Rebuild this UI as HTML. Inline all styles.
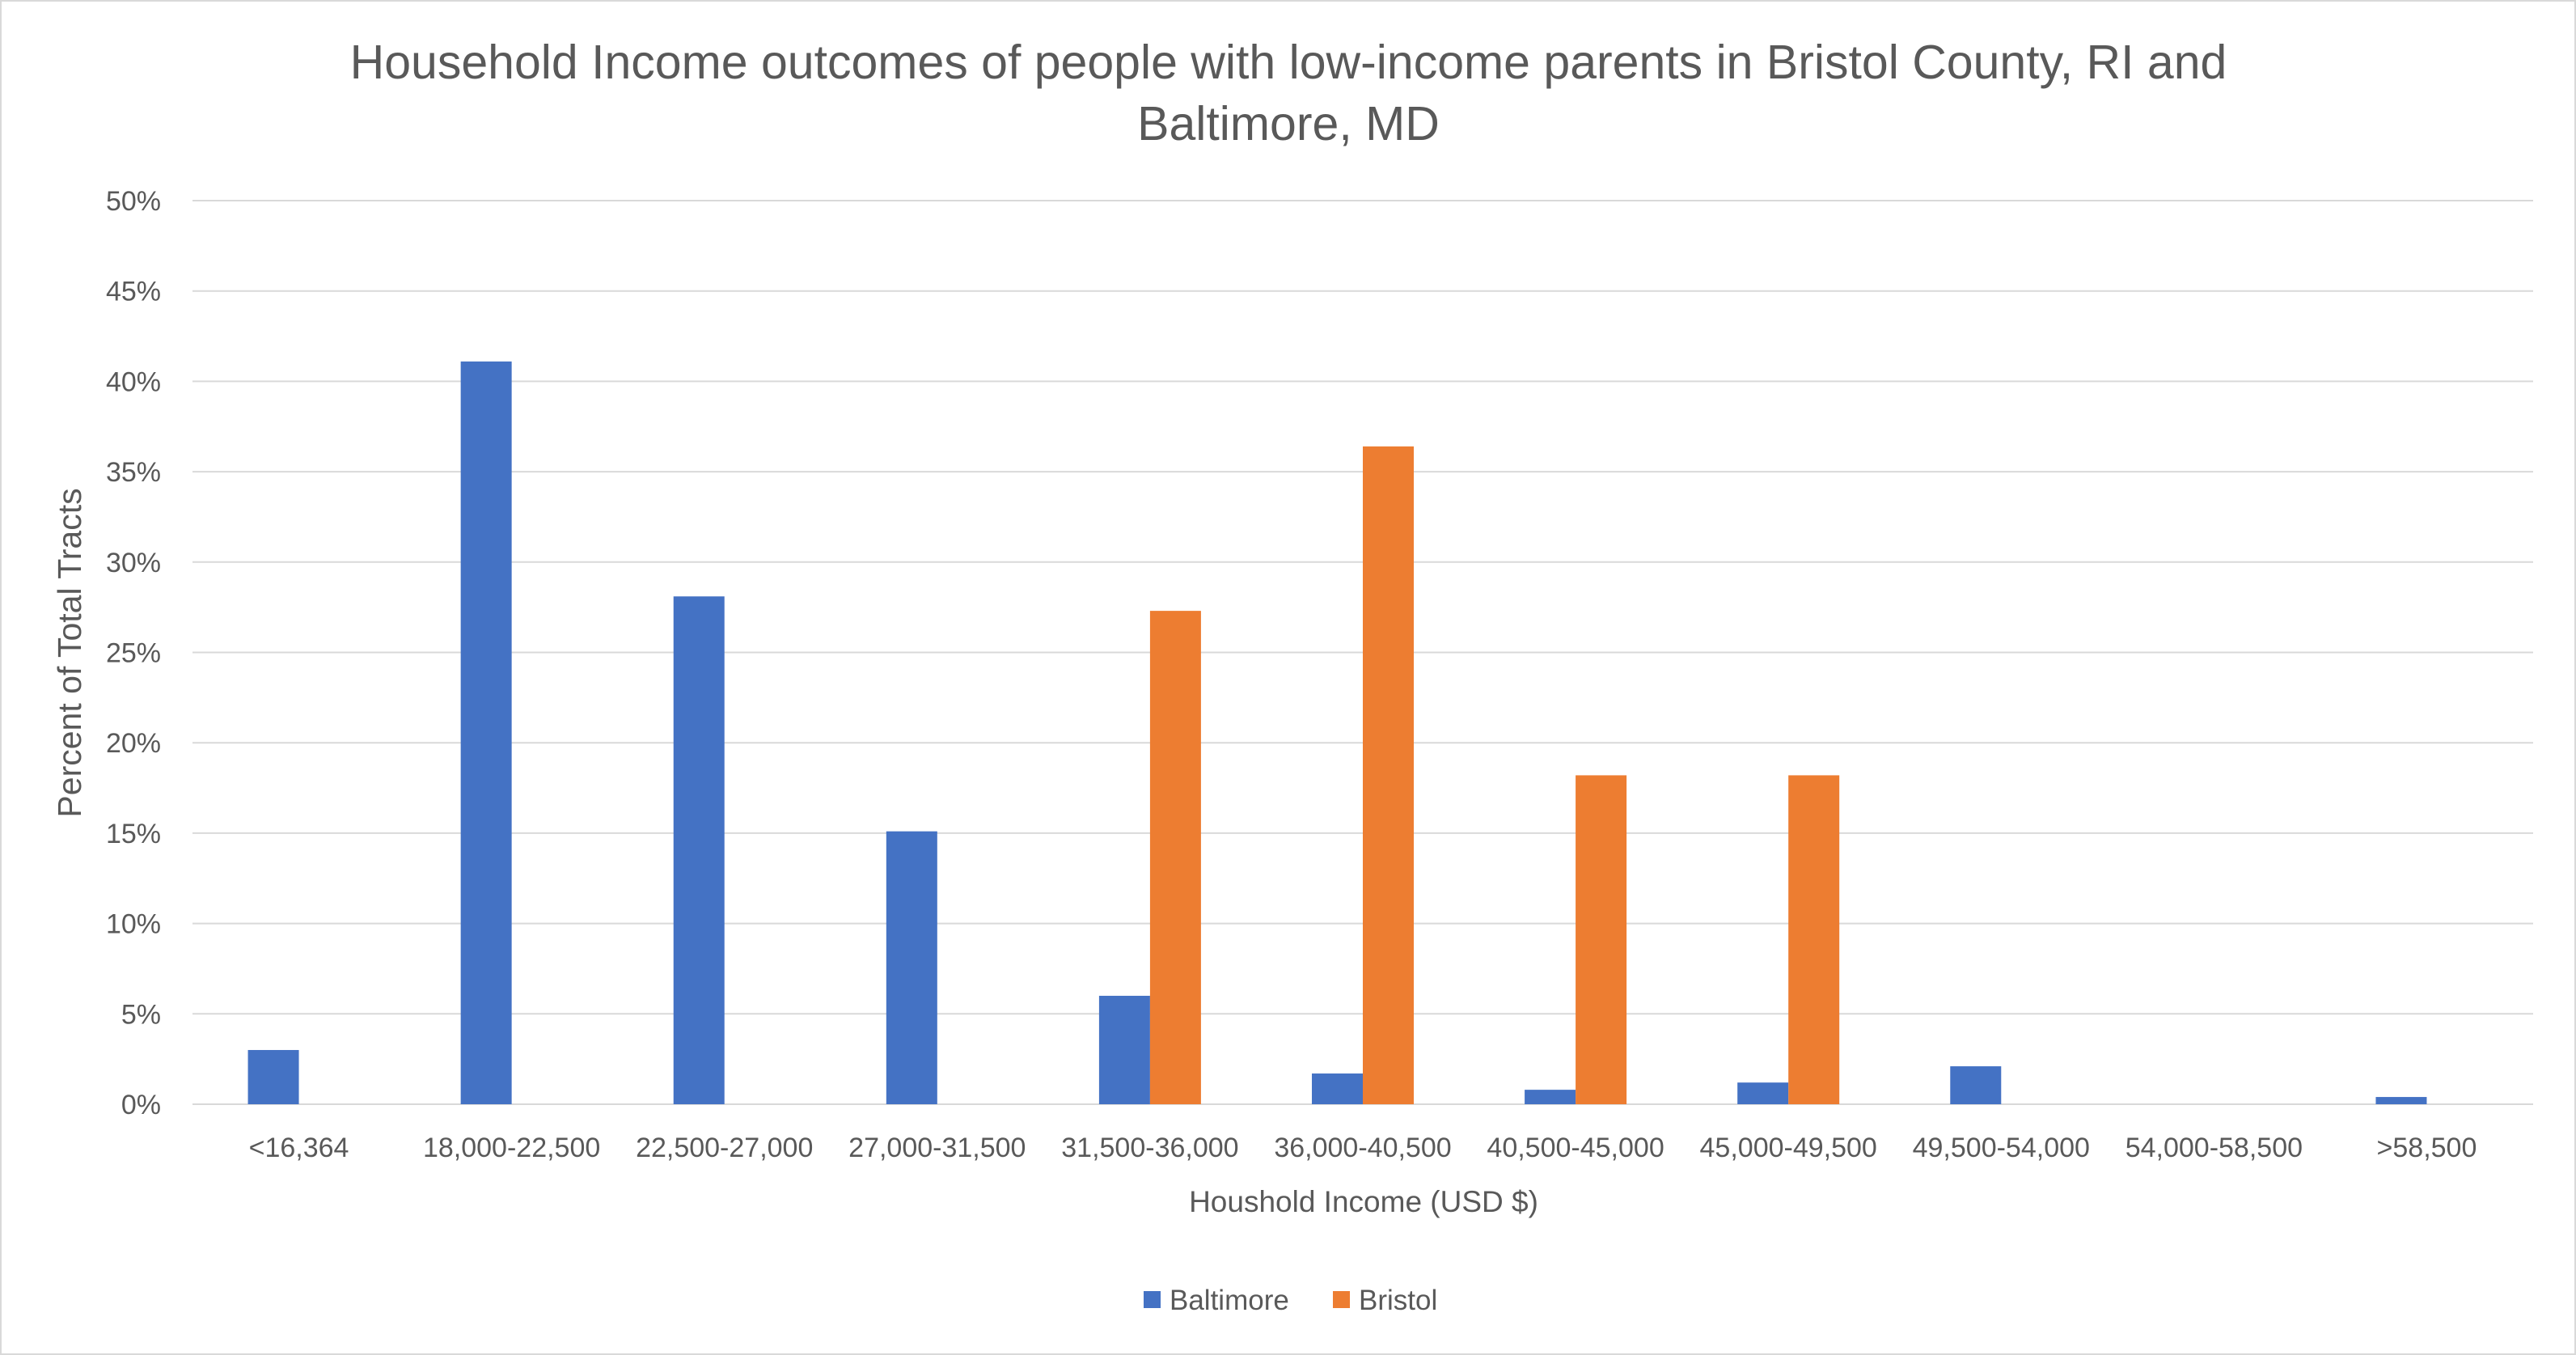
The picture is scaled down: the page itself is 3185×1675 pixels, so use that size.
<!DOCTYPE html>
<html>
<head>
<meta charset="utf-8">
<style>
  html, body { margin: 0; padding: 0; background: #fff; }
  svg { display: block; font-family: "Liberation Sans", sans-serif; }
</style>
</head>
<body>
<svg id="chart" width="3185" height="1675" viewBox="0 0 3185 1675">
  <rect x="1" y="1" width="3183" height="1673" fill="#fff" stroke="#d9d9d9" stroke-width="2"/>
  <text x="1593" y="97" text-anchor="middle" font-size="59" fill="#595959">Household Income outcomes of people with low-income parents in Bristol County, RI and</text>
  <text x="1593" y="173" text-anchor="middle" font-size="59" fill="#595959">Baltimore, MD</text>
  <g id="grid"></g>
  <g id="yticks"></g>
  <g id="bars"></g>
  <g id="xticks"></g>
  <text x="1686" y="1498" text-anchor="middle" font-size="37" fill="#595959">Houshold Income (USD $)</text>
  <text transform="translate(100,807) rotate(-90)" text-anchor="middle" font-size="41" fill="#595959">Percent of Total Tracts</text>
  <g>
    <rect x="1414" y="1596" width="21" height="21" fill="#4472C4"/>
    <text x="1446" y="1619" font-size="35" fill="#595959">Baltimore</text>
    <rect x="1648" y="1596" width="21" height="21" fill="#ED7D31"/>
    <text x="1680" y="1619" font-size="35" fill="#595959">Bristol</text>
  </g>
</svg>
<script>
const categories = ["<16,364","18,000-22,500","22,500-27,000","27,000-31,500","31,500-36,000","36,000-40,500","40,500-45,000","45,000-49,500","49,500-54,000","54,000-58,500",">58,500"];
const baltimore = [3.0, 41.1, 28.1, 15.1, 6.0, 1.7, 0.8, 1.2, 2.1, 0, 0.4];
const bristol = [0, 0, 0, 0, 27.3, 36.4, 18.2, 18.2, 0, 0, 0];
const yTicks = [0, 5, 10, 15, 20, 25, 30, 35, 40, 45, 50];

const NS = "http://www.w3.org/2000/svg";
const plotL = 238, plotR = 3132, plotTop = 248, plotBot = 1365, yMax = 50;
const band = (plotR - plotL) / categories.length;
const barW = 63;
function yPos(v) { return plotBot - (v / yMax) * (plotBot - plotTop); }
function xCenter(i) { return plotL + band * (i + 0.5); }
function mk(tag, attrs, parent) {
  const e = document.createElementNS(NS, tag);
  for (const k in attrs) e.setAttribute(k, attrs[k]);
  parent.appendChild(e);
  return e;
}
const grid = document.getElementById("grid");
const yt = document.getElementById("yticks");
yTicks.forEach(t => {
  const y = yPos(t);
  const l = mk("line", {x1: plotL, x2: plotR, y1: y, y2: y, stroke: "#d9d9d9", "stroke-width": 2}, grid);
  
  
  const tx = mk("text", {x: 199, y: y + 12, "text-anchor": "end", "font-size": 34, fill: "#595959"}, yt);
  tx.textContent = t + "%";
  
  
});
const bars = document.getElementById("bars");
const xt = document.getElementById("xticks");
categories.forEach((c, i) => {
  const cx = xCenter(i);
  const b1 = mk("rect", {x: cx - barW, y: yPos(baltimore[i]), width: barW, height: plotBot - yPos(baltimore[i]), fill: "#4472C4"}, bars);
  
  
  const b2 = mk("rect", {x: cx, y: yPos(bristol[i]), width: barW, height: plotBot - yPos(bristol[i]), fill: "#ED7D31"}, bars);
  
  
  const tx = mk("text", {x: cx, y: 1430, "text-anchor": "middle", "font-size": 34, fill: "#595959"}, xt);
  tx.textContent = c;
  
  
});
</script>
</body>
</html>
